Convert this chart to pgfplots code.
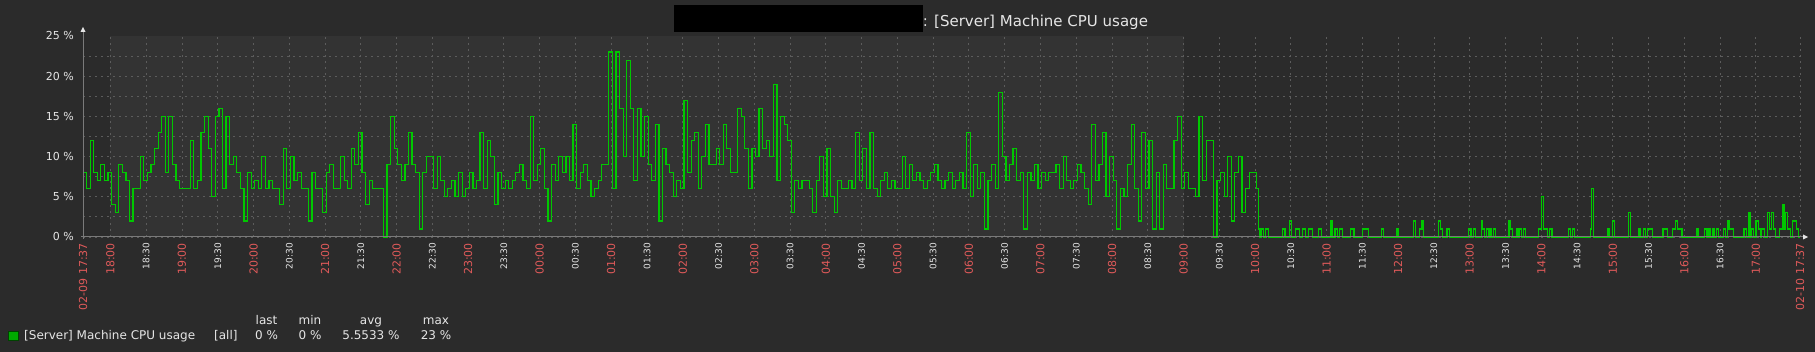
\documentclass[border=0pt]{standalone}
\usepackage{pgfplots}
\pgfplotsset{compat=1.18}
\usepackage{fontspec}
\setmainfont{DejaVu Sans}
\definecolor{bg}{HTML}{2B2B2B}
\definecolor{plotbg}{HTML}{333333}
\definecolor{gridc}{HTML}{5C5C5C}
\definecolor{axisc}{HTML}{7A7A7A}
\definecolor{txt}{HTML}{E6E6E6}
\definecolor{hourred}{HTML}{E05A5A}
\definecolor{lineg}{HTML}{00C800}
\definecolor{legg}{HTML}{00AA00}
\begin{document}
\begin{tikzpicture}[x=1pt,y=1pt]
\fill[bg] (0,0) rectangle (1815,352);
\fill[plotbg] (110.42,115) rectangle (1183.5,316);
\begin{axis}[
  at={(83pt,115pt)}, anchor=south west,
  scale only axis, width=1717pt, height=201pt,
  xmin=0, xmax=1440, ymin=0, ymax=25,
  enlargelimits=false, clip=false,
  axis line style={draw=none},
  major tick length=0pt, minor tick length=0pt,
  xtick={0,23,83,143,203,263,323,383,443,503,563,623,683,743,803,863,923,983,1043,1103,1163,1223,1283,1343,1403,1440},
  xticklabels={02-09 17:37,18:00,19:00,20:00,21:00,22:00,23:00,00:00,01:00,02:00,03:00,04:00,05:00,06:00,07:00,08:00,09:00,10:00,11:00,12:00,13:00,14:00,15:00,16:00,17:00,02-10 17:37},
  extra x ticks={53,113,173,233,293,353,413,473,533,593,653,713,773,833,893,953,1013,1073,1133,1193,1253,1313,1373},
  extra x tick labels={18:30,19:30,20:30,21:30,22:30,23:30,00:30,01:30,02:30,03:30,04:30,05:30,06:30,07:30,08:30,09:30,10:30,11:30,12:30,13:30,14:30,15:30,16:30},
  extra x tick style={grid=major, xticklabel style={text=txt, font=\fontsize{9}{10}\selectfont}},
  xticklabel style={yshift=-6pt, rotate=90, anchor=east, inner sep=0pt, text=hourred, font=\fontsize{11}{12}\selectfont},
  ytick={0,5,10,15,20},
  yticklabels={0 \%,5 \%,10 \%,15 \%,20 \%},
  extra y ticks={25}, extra y tick labels={25 \%},
  extra y tick style={grid=none},
  minor ytick={2.5,7.5,12.5,17.5,22.5},
  yticklabel style={xshift=-9pt, anchor=east, inner sep=0pt, text=txt, font=\fontsize{11}{12}\selectfont},
  grid=both,
  major grid style={gridc, line width=0.9pt, dash pattern=on 2pt off 4pt},
  minor grid style={gridc, line width=0.9pt, dash pattern=on 2pt off 4pt},
]
\addplot[const plot, lineg, line width=1.2pt] coordinates {
(0,8)(3,6)(6,12)(9,8)(12,7)(15,9)(18,7)(21,8)(24,4)(27,3)(30,9)(33,8)(36,7)(39,2)(42,6)(45,6)(48,10)(51,7)(54,8)(57,9)(60,11)(63,13)(66,15)(69,8)(72,15)(75,9)(78,7)(81,6)(84,6)(87,6)(90,12)(93,6)(96,7)(99,13)(102,15)(105,11)(108,5)(111,15)(114,16)(117,6)(120,15)(123,9)(126,10)(129,8)(132,6)(135,2)(138,8)(141,6)(144,7)(147,6)(150,10)(153,6)(156,7)(159,6)(162,6)(165,4)(168,11)(171,6)(174,10)(177,7)(180,8)(183,6)(186,6)(189,2)(192,8)(195,6)(198,6)(201,3)(204,8)(207,9)(210,6)(213,6)(216,10)(219,7)(222,6)(225,11)(228,9)(231,13)(234,8)(237,4)(240,7)(243,6)(246,6)(249,6)(252,0)(255,9)(258,15)(261,11)(264,9)(267,7)(270,9)(273,13)(276,9)(279,8)(282,1)(285,8)(288,10)(291,10)(294,6)(297,10)(300,7)(303,5)(306,6)(309,7)(312,5)(315,8)(318,5)(321,6)(324,8)(327,6)(330,7)(333,13)(336,6)(339,12)(342,10)(345,4)(348,8)(351,6)(354,7)(357,6)(360,7)(363,8)(366,9)(369,7)(372,6)(375,15)(378,7)(381,9)(384,11)(387,6)(390,2)(393,9)(396,7)(399,10)
(402,8)(405,10)(408,7)(411,14)(414,6)(417,8)(420,9)(423,7)(426,5)(429,6)(432,7)(435,9)(438,9)(441,23)(444,6)(447,23)(450,16)(453,10)(456,22)(459,16)(462,7)(465,16)(468,10)(471,15)(474,9)(477,7)(480,14)(483,2)(486,11)(489,9)(492,8)(495,5)(498,7)(501,6)(504,17)(507,8)(510,12)(513,13)(516,6)(519,10)(522,14)(525,9)(528,9)(531,11)(534,9)(537,14)(540,11)(543,8)(546,8)(549,16)(552,15)(555,11)(558,6)(561,11)(564,10)(567,16)(570,11)(573,12)(576,10)(579,19)(582,7)(585,15)(588,14)(591,12)(594,3)(597,7)(600,6)(603,7)(606,7)(609,6)(612,3)(615,7)(618,10)(621,5)(624,11)(627,5)(630,3)(633,7)(636,6)(639,6)(642,7)(645,6)(648,13)(651,7)(654,11)(657,6)(660,13)(663,6)(666,5)(669,7)(672,8)(675,6)(678,7)(681,6)(684,6)(687,10)(690,6)(693,9)(696,7)(699,8)(702,7)(705,6)(708,7)(711,8)(714,9)(717,7)(720,6)(723,7)(726,8)(729,6)(732,7)(735,8)(738,6)(741,13)(744,5)(747,9)(750,6)(753,8)(756,1)(759,7)(762,9)(765,6)(768,18)(771,10)(774,7)(777,9)(780,11)(783,7)(786,8)(789,1)(792,8)(795,7)(798,9)
(801,6)(804,8)(807,7)(810,8)(813,8)(816,9)(819,6)(822,10)(825,7)(828,6)(831,7)(834,9)(837,8)(840,6)(843,4)(846,14)(849,7)(852,9)(855,13)(858,5)(861,10)(864,7)(867,1)(870,6)(873,5)(876,9)(879,14)(882,6)(885,2)(888,13)(891,6)(894,12)(897,1)(900,8)(903,1)(906,9)(909,6)(912,6)(915,12)(918,15)(921,6)(924,8)(927,6)(930,6)(933,5)(936,15)(939,7)(942,12)(945,12)(948,0)(951,7)(954,8)(957,5)(960,10)(963,2)(966,8)(969,10)(972,3)(975,6)(978,8)(981,8)(984,6)(986,1)(987,0)
(988,1)(990,0)(992,1)(994,0)(1006,1)(1008,0)(1012,2)(1013.5,0)(1017,1)(1020,0)(1023,1)(1025,0)(1028,1)(1031,0)(1036,1)(1039,0)(1046,2)(1047.5,0)(1050,1)(1052,0)(1054,1)(1056,0)(1063,1)(1066,0)(1073,1)(1078,0)(1089,1)(1090.5,0)(1102,1)(1103.5,0)(1116,2)(1117.5,0)(1121,1)(1123,2)(1124.5,0)(1137,2)(1138.5,1)(1140,0)(1144,1)(1146,0)(1162,1)(1164,0)(1166,1)(1168,0)(1173,2)(1174,1)(1175.5,0)(1177,1)(1178.5,0)(1180,1)(1181.5,0)(1183,1)(1184.5,0)(1196,2)(1197,1)(1199,0)(1202,1)(1203.5,0)(1205,1)(1206.5,0)(1208,1)(1209.5,0)(1221,1)(1223,5)(1225,1)(1228,0)(1230,1)(1232,0)(1246,1)(1247.5,0)(1249,1)(1251,0)(1264,1)(1265,6)(1266.5,0)(1279,1)(1280.5,0)(1283,2)(1284.5,0)(1296,3)(1297.5,0)(1305,1)(1306.5,0)(1309,1)(1310.5,0)(1312,1)(1316,0)(1325,1)(1329,0)(1333,1)(1335.5,2)(1337,1)(1341,0)(1353,1)(1354.5,0)(1360,1)(1362,0)(1363,1)(1364.5,0)(1367,1)(1368.5,0)(1370,1)(1371.5,0)(1376,1)(1377.5,0)(1379,2)(1380.5,1)(1384,0)(1393,1)(1395,0)(1397,3)(1398,0)(1399,1)(1401,0)(1403,2)(1405,1)(1407,0)(1408,1)(1410,0)(1413,3)(1414.5,1)(1416,3)(1417.5,1)(1419.5,0)(1423,1)(1425,4)(1426.5,1)(1428,3)(1429.5,1)(1432,0)(1434,2)(1437,1)(1438.5,0)(1440,0)
};
\end{axis}
% axis lines with arrow heads
\draw[axisc, line width=1pt] (83,113) -- (83,322);
\fill[white!90!black] (80.5,320) -- (85.5,320) -- (83,325) -- cycle;
\draw[axisc, line width=1pt] (81,115) -- (1804,115);
\fill[white!90!black] (1803,112.5) -- (1803,117.5) -- (1808,115) -- cycle;
% title
\fill[black] (674,320.2) rectangle (922.6,347.4);
\node[anchor=base west, inner sep=0pt, text=txt, font=\fontsize{15}{16}\selectfont] at (922.6,325) {: [Server] Machine CPU usage};
% legend
\fill[legg] (8.3,11.3) rectangle (18.3,20.3);
\draw[black!60!legg, line width=0.5pt] (8.3,11.3) rectangle (18.3,20.3);
\begin{scope}[every node/.style={inner sep=0pt, text=txt, font=\fontsize{12}{13}\selectfont}]
\node[anchor=base west] at (24,12.7) {[Server] Machine CPU usage};
\node[anchor=base west] at (214,12.7) {[all]};
\node[anchor=base] at (266.5,27.7) {last};
\node[anchor=base] at (310,27.7) {min};
\node[anchor=base] at (371,27.7) {avg};
\node[anchor=base] at (436,27.7) {max};
\node[anchor=base] at (266.5,12.7) {0 \%};
\node[anchor=base] at (310,12.7) {0 \%};
\node[anchor=base] at (371,12.7) {5.5533 \%};
\node[anchor=base] at (436,12.7) {23 \%};
\end{scope}
\end{tikzpicture}
\end{document}
